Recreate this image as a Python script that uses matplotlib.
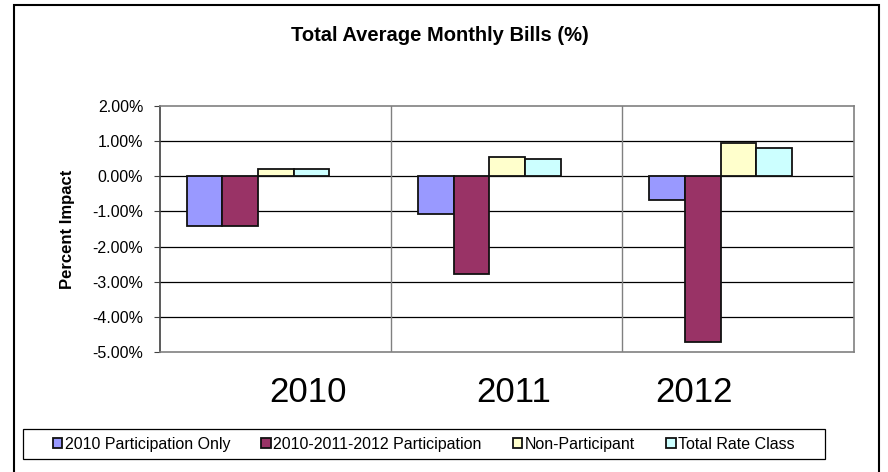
import matplotlib
matplotlib.use("Agg")
import matplotlib.pyplot as plt
import numpy as np
from matplotlib.patches import Rectangle
from matplotlib.ticker import FuncFormatter

plt.rcParams["font.family"] = ["Liberation Sans", "DejaVu Sans"]

YEARS = ["2010", "2011", "2012"]
SERIES = ["2010 Participation Only", "2010-2011-2012 Participation",
          "Non-Participant", "Total Rate Class"]
PART_2010 = [-1.40, -1.07, -0.68]
PART_ALL = [-1.40, -2.79, -4.72]
NON_PART = [0.22, 0.56, 0.95]
TOTAL_RATE = [0.21, 0.48, 0.81]
Y_TICKS = [2, 1, 0, -1, -2, -3, -4, -5]

COLORS = ["#9999FF", "#993366", "#FFFFCC", "#CCFFFF"]
BAR_W = 0.154
GROUP_SHIFT = -0.076
LABEL_SHIFT = [0.14, 0.03, -0.19]


def main():
    fig = plt.figure(figsize=(8.88, 4.72), dpi=100)
    ax = fig.add_axes([0.1802, 0.2542, 0.7812, 0.5212])

    x = np.arange(len(YEARS))
    values = [PART_2010, PART_ALL, NON_PART, TOTAL_RATE]
    for i, (name, vals) in enumerate(zip(SERIES, values)):
        ax.bar(x + GROUP_SHIFT + (i - 1.5) * BAR_W, vals, BAR_W,
               color=COLORS[i], edgecolor="#111111", lw=1.3, label=name, zorder=3)

    ax.set_xlim(-0.5, len(YEARS) - 0.5)
    ax.set_ylim(-5, 2)
    ax.set_yticks(Y_TICKS)
    ax.yaxis.set_major_formatter(FuncFormatter(lambda v, p: f"{v:.2f}%"))
    ax.tick_params(axis="y", labelsize=11.5, length=4, pad=8, color="#404040")

    # category labels sit a bit off the group centres in the original
    ax.set_xticks(x + np.array(LABEL_SHIFT))
    ax.set_xticklabels(YEARS, fontsize=25)
    ax.tick_params(axis="x", length=0, pad=17)

    for y in Y_TICKS[1:-1]:
        ax.axhline(y, color="black", lw=0.9, zorder=1)
    for b in x[:-1] + 0.5:
        ax.axvline(b, color="#808080", lw=1.0, zorder=1)

    for s in ax.spines.values():
        s.set_color("#808080")
        s.set_linewidth(1.2)
    ax.spines["left"].set_color("#404040")

    ax.set_ylabel("Percent Impact", fontsize=12, fontweight="bold")
    ax.yaxis.set_label_coords(-0.122, 0.5)

    fig.text(0.495, 0.924, "Total Average Monthly Bills (%)", ha="center",
             va="center", fontsize=14.5, fontweight="bold")

    # legend frame drawn separately so its size matches the original box
    fig.patches.append(Rectangle((0.0256, 0.0273), 0.9032, 0.0636,
                                 transform=fig.transFigure, fill=False,
                                 ec="black", lw=0.9))
    fig.legend(loc="center", ncol=4, bbox_to_anchor=(0.4772, 0.0591),
               fontsize=11.5, frameon=False,
               handlelength=0.6, handleheight=0.6, handletextpad=0.15,
               columnspacing=1.95, borderaxespad=0)

    fig.patches.append(Rectangle((0.0158, -0.02), 0.9737, 1.0101,
                                 transform=fig.transFigure, fill=False,
                                 ec="black", lw=1.5))

    fig.savefig("out.png", dpi=100)


if __name__ == "__main__":
    main()
